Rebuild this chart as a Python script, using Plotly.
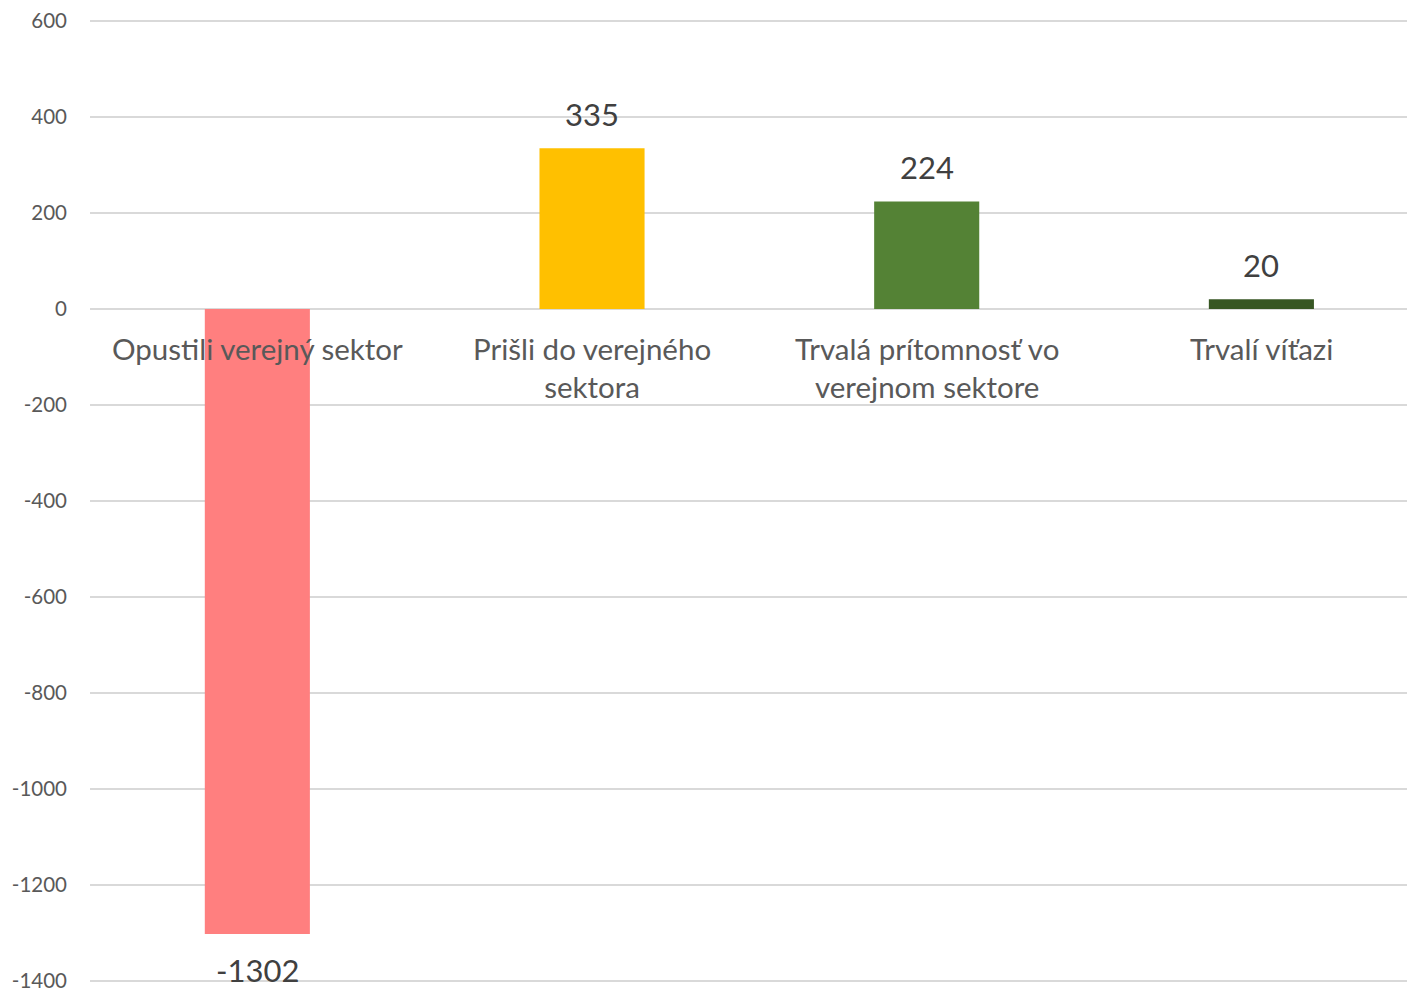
import plotly.graph_objects as go

categories = ["Opustili verejný sektor", "Prišli do verejného sektora",
              "Trvalá prítomnosť vo verejnom sektore", "Trvalí víťazi"]
label_lines = ["Opustili verejný sektor", "Prišli do verejného<br>sektora",
               "Trvalá prítomnosť vo<br>verejnom sektore", "Trvalí víťazi"]
values = [-1302, 335, 224, 20]
colors = ["#FF7F7F", "#FFC000", "#548235", "#375623"]
tick_vals = [600, 400, 200, 0, -200, -400, -600, -800, -1000, -1200, -1400]

FONT = "Lato, 'Open Sans', sans-serif"

fig = go.Figure()
fig.add_trace(go.Bar(
    x=categories, y=values, marker_color=colors, marker_line_width=0,
    width=0.314, showlegend=False, hoverinfo="x+y",
))

for cat, v in zip(categories, values):
    fig.add_annotation(x=cat, y=v, text=str(v), showarrow=False,
                       yanchor="middle", yshift=34 if v >= 0 else -36,
                       font=dict(size=31, color="#404040", family=FONT))

for cat, lab in zip(categories, label_lines):
    fig.add_annotation(x=cat, y=0, text=lab, showarrow=False, yanchor="top",
                       yshift=-20, font=dict(size=29.5, color="#595959", family=FONT),
                       align="center")

# page body has an 8px default margin; compensate in figure size/margins
fig.update_layout(
    width=1407, height=984,
    margin=dict(l=82, r=0, t=11, b=9, autoexpand=False),
    paper_bgcolor="white", plot_bgcolor="white",
    font=dict(family=FONT),
)
fig.update_xaxes(showticklabels=False, showgrid=False, zeroline=False, showline=False,
                 range=[-0.5, 3.459])
fig.update_yaxes(range=[-1404, 604], tickvals=tick_vals,
                 ticktext=[str(v) for v in tick_vals],
                 showgrid=True, gridcolor="#D9D9D9", gridwidth=2,
                 zeroline=True, zerolinecolor="#D9D9D9", zerolinewidth=2,
                 tickfont=dict(size=20.5, color="#595959", family=FONT),
                 ticklabelstandoff=22, ticklabeloverflow="allow",
                 showline=False, automargin=False)

fig.write_html("out.html")
